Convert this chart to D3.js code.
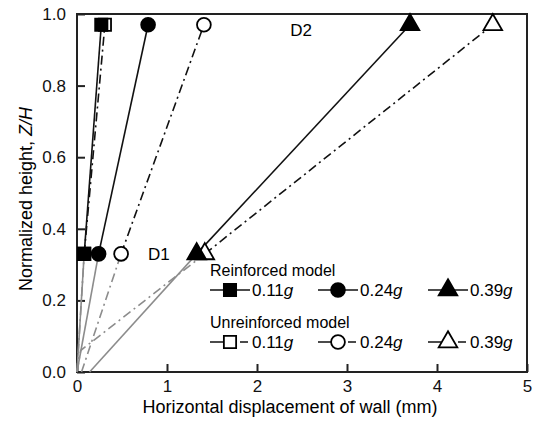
<!DOCTYPE html>
<html>
<head>
<meta charset="utf-8">
<script src="https://cdn.jsdelivr.net/npm/d3@7"></script>
<style>
  body { margin: 0; background: #fff; }
  svg { display: block; font-family: "Liberation Sans", Arial, sans-serif; }
</style>
</head>
<body>
<div id="chart"></div>
<script>
// wall displacement profiles
var heights = [0, 0.33, 0.97];
var heightsKink = [0, 0.06, 0.33, 0.97];
var reinforced011 = [0, 0.08, 0.27];
var reinforced024 = [0, 0.24, 0.79];
var reinforced039 = [0.14, 1.33, 3.70];
var unreinforced011 = [0, 0.08, 0.31];
var unreinforced024 = [0.05, 0.49, 1.41];
var unreinforced039 = [0, 0.04, 1.42, 4.62];
var xTicks = [0, 1, 2, 3, 4, 5];
var yTicks = [0, 0.2, 0.4, 0.6, 0.8, 1.0];
var legendLabels = ['0.11', '0.24', '0.39'];

var W = 536, H = 423;
var margin = { top: 14, right: 9, bottom: 51, left: 77 };
var width = W - margin.left - margin.right;
var height = H - margin.top - margin.bottom;

var svg = d3.select('#chart').append('svg').attr('width', W).attr('height', H);
var g = svg.append('g').attr('transform', 'translate(' + margin.left + ',' + margin.top + ')');

var x = d3.scaleLinear().domain([0, 5]).range([0, width]);
var y = d3.scaleLinear().domain([0, 1]).range([height, 0]);

var DASHDOT = '9,4,2,4';
// unreinforced first so the filled markers sit on top
var series = [
    { xs: unreinforced011, zs: heights, shape: 'square', filled: false, dash: DASHDOT },
    { xs: unreinforced024, zs: heights, shape: 'circle', filled: false, dash: DASHDOT },
    { xs: unreinforced039, zs: heightsKink, shape: 'triangle', filled: false, dash: DASHDOT },
    { xs: reinforced011, zs: heights, shape: 'square', filled: true, dash: null },
    { xs: reinforced024, zs: heights, shape: 'circle', filled: true, dash: null },
    { xs: reinforced039, zs: heights, shape: 'triangle', filled: true, dash: null }
];

var symbols = {
    square: d3.symbol().type(d3.symbolSquare).size(150),
    circle: d3.symbol().type(d3.symbolCircle).size(150),
    triangle: d3.symbol().type(d3.symbolTriangle).size(150)
};

var line = d3.line().x(function(d) { return x(d[0]); }).y(function(d) { return y(d[1]); });

// frame
g.append('rect').attr('width', width).attr('height', height)
    .attr('fill', 'none').attr('stroke', '#222').attr('stroke-width', 2);

// axes with inward ticks
var xAxis = g.append('g').attr('transform', 'translate(0,' + height + ')')
    .call(d3.axisBottom(x).tickValues(xTicks).tickFormat(d3.format('d')).tickSizeInner(-8).tickSizeOuter(0).tickPadding(8));
var yAxis = g.append('g')
    .call(d3.axisLeft(y).tickValues(yTicks).tickFormat(d3.format('.1f')).tickSizeInner(-8).tickSizeOuter(0).tickPadding(11));
[xAxis, yAxis].forEach(function(a) {
    a.select('.domain').remove();
    a.selectAll('line').attr('stroke', '#222').attr('stroke-width', 2);
    a.selectAll('text').attr('font-size', 17).attr('fill', '#111').attr('font-family', '"Liberation Sans", Arial, sans-serif');
});

// profiles: gray below D1, black above
series.forEach(function(s) {
    var pts = s.xs.map(function(v, i) { return [v, s.zs[i]]; });
    var n = pts.length;
    g.append('path').attr('d', line(pts.slice(0, n - 1))).attr('fill', 'none').attr('stroke', '#8c8c8c')
        .attr('stroke-width', 1.6).attr('stroke-dasharray', s.dash);
    g.append('path').attr('d', line(pts.slice(n - 2))).attr('fill', 'none').attr('stroke', '#111')
        .attr('stroke-width', 1.6).attr('stroke-dasharray', s.dash);
});
series.forEach(function(s) {
    var n = s.xs.length;
    [n - 2, n - 1].forEach(function(i) {
        g.append('path').attr('d', symbols[s.shape]())
            .attr('transform', 'translate(' + x(s.xs[i]) + ',' + y(s.zs[i]) + ')')
            .attr('fill', s.filled ? '#000' : '#fff').attr('stroke', '#000').attr('stroke-width', 1.8);
    });
});

// annotations
g.append('text').attr('x', x(0.79)).attr('y', y(0.33) + 6).attr('font-size', 17).text('D1');
g.append('text').attr('x', x(2.37)).attr('y', y(0.97) + 11).attr('font-size', 17).text('D2');

// legend
var legend = g.append('g').attr('transform', 'translate(' + (210 - margin.left) + ',' + (270 - margin.top) + ')');
var rows = [
    { title: 'Reinforced model', filled: true, dash: null, dy: 0 },
    { title: 'Unreinforced model', filled: false, dash: '13,17,8,10', dy: 52 }
];
var shapes = ['square', 'circle', 'triangle'];
var colX = [0, 108, 218];
rows.forEach(function(r) {
    legend.append('text').attr('x', 0).attr('y', r.dy + 6).attr('font-size', 16).text(r.title);
    shapes.forEach(function(sh, j) {
        var cx = colX[j] + 20;
        var cy = r.dy + 20;
        legend.append('line').attr('x1', cx - 20).attr('x2', cx + 20).attr('y1', cy).attr('y2', cy)
            .attr('stroke', '#111').attr('stroke-width', 1.6).attr('stroke-dasharray', r.dash);
        legend.append('path').attr('d', symbols[sh]()).attr('transform', 'translate(' + cx + ',' + cy + ')')
            .attr('fill', r.filled ? '#000' : '#fff').attr('stroke', '#000').attr('stroke-width', 1.8);
        var t = legend.append('text').attr('x', cx + 22).attr('y', cy + 6).attr('font-size', 17);
        t.append('tspan').text(legendLabels[j]);
        t.append('tspan').attr('font-style', 'italic').text('g');
    });
});

// axis titles
svg.append('text').attr('x', margin.left + width / 2 - 12).attr('y', H - 10).attr('text-anchor', 'middle')
    .attr('font-size', 18).text('Horizontal displacement of wall (mm)');
var yt = svg.append('text').attr('transform', 'translate(32,' + (margin.top + height / 2 + 6) + ') rotate(-90)')
    .attr('text-anchor', 'middle').attr('font-size', 18);
yt.append('tspan').text('Normalized height, ');
yt.append('tspan').attr('font-style', 'italic').text('Z/H');
</script>
</body>
</html>
